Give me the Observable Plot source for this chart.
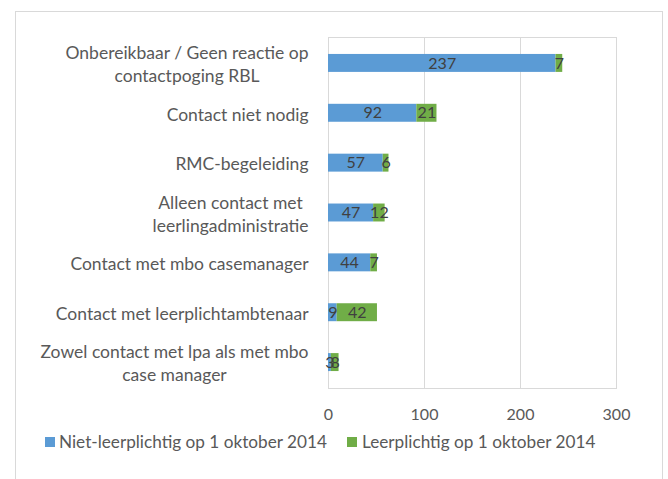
<!DOCTYPE html>
<html>
<head>
<meta charset="utf-8">
<script src="https://cdn.jsdelivr.net/npm/d3@7"></script>
<script src="https://cdn.jsdelivr.net/npm/@observablehq/plot@0.6"></script>
<style>
  html, body { margin: 0; padding: 0; background: #fff; width: 668px; height: 479px; overflow: hidden; }
  body { font-family: Lato, "Open Sans", sans-serif; position: relative; }
  #frame { position: absolute; left: 15px; top: 11px; width: 648px; height: 520px; border: 1px solid #d9d9d9; border-bottom: none; box-sizing: border-box; }
  #chart { position: absolute; left: 0; top: 0; }
  #legend { position: absolute; left: 0; top: 430px; width: 668px; height: 24px; font-size: 17.2px; color: #595959; }
  .item { position: absolute; top: 0; height: 24px; line-height: 24px; white-space: nowrap; }
  .sw { position: absolute; top: 7px; width: 10px; height: 10px; }
</style>
</head>
<body>
<div id="frame"></div>
<div id="chart"></div>
<div id="legend"></div>
<script>
const categories = [
  "Onbereikbaar / Geen reactie op\ncontactpoging RBL",
  "Contact niet nodig",
  "RMC-begeleiding",
  "Alleen contact met\nleerlingadministratie",
  "Contact met mbo casemanager",
  "Contact met leerplichtambtenaar",
  "Zowel contact met lpa als met mbo\ncase manager"
];
const seriesNames = ["Niet-leerplichtig op 1 oktober 2014", "Leerplichtig op 1 oktober 2014"];
const nietLeerplichtig = [237, 92, 57, 47, 44, 9, 3];
const leerplichtig = [7, 21, 6, 12, 7, 42, 8];
const xTicks = [0, 100, 200, 300];
const colors = ["#5b9bd5", "#70ad47"];

const data = [];
[nietLeerplichtig, leerplichtig].forEach((vals, si) => {
  vals.forEach((v, i) => data.push({cat: categories[i], series: seriesNames[si], value: v}));
});

const chart = Plot.plot({
  width: 668,
  height: 430,
  marginLeft: 328,
  marginRight: 52,
  marginTop: 37,
  marginBottom: 42,
  style: {fontFamily: "Lato, 'Open Sans', sans-serif", background: "transparent"},
  x: {domain: [0, 300], ticks: xTicks, label: null},
  y: {domain: categories, paddingInner: 0.64, paddingOuter: 0.34, round: false, label: null},
  color: {domain: seriesNames, range: colors},
  marks: [
    Plot.gridX(xTicks, {stroke: "#d9d9d9", strokeOpacity: 1, strokeWidth: 1}),
    Plot.frame({stroke: "#d9d9d9", strokeWidth: 1}),
    Plot.barX(data, Plot.stackX({x: "value", y: "cat", fill: "series", order: seriesNames})),
    Plot.textX(data, Plot.stackX({x: "value", y: "cat", z: "series", order: seriesNames, text: "value", fill: "#404040", fontSize: 16})),
    Plot.axisX({ticks: xTicks, tickSize: 0, tickPadding: 20, fontSize: 16, fill: "#595959", label: null}),
    Plot.axisY({tickSize: 0, tickPadding: 20, fontSize: 17.5, fill: "#595959", lineHeight: 1.3, label: null})
  ]
});
document.getElementById("chart").appendChild(chart);

// center multi-line category labels relative to each other (right-aligned block)
chart.querySelectorAll("g[aria-label='y-axis tick label'] text").forEach(t => {
  const spans = t.querySelectorAll("tspan");
  if (spans.length > 1) {
    let maxW = 0;
    spans.forEach(s => { maxW = Math.max(maxW, s.getComputedTextLength()); });
    t.setAttribute("text-anchor", "middle");
    spans.forEach(s => s.setAttribute("x", -maxW / 2));
  }
});

// legend
const legend = document.getElementById("legend");
const positions = [[45, 59], [347, 362]];
seriesNames.forEach((name, i) => {
  const sw = document.createElement("div");
  sw.className = "sw";
  sw.style.left = positions[i][0] + "px";
  sw.style.background = colors[i];
  legend.appendChild(sw);
  const lab = document.createElement("div");
  lab.className = "item";
  lab.style.left = positions[i][1] + "px";
  lab.textContent = name;
  legend.appendChild(lab);
});
</script>
</body>
</html>
